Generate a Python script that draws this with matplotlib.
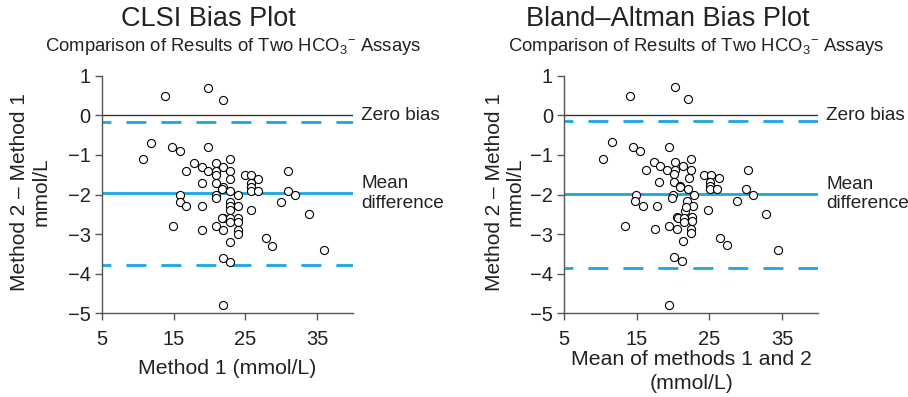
import matplotlib
matplotlib.use("Agg")
import matplotlib.pyplot as plt

plt.rcParams['font.family'] = ['Liberation Sans', 'DejaVu Sans']
plt.rcParams['mathtext.fontset'] = 'custom'
plt.rcParams['mathtext.rm'] = 'Liberation Sans'
plt.rcParams['mathtext.it'] = 'Liberation Sans:italic'
plt.rcParams['lines.scale_dashes'] = False

# CLSI plot: method 1 value vs difference
clsi_x = [13.8, 19.8, 21.9, 11.8, 10.8, 14.8, 15.9, 19.8, 22.8, 17.9,
          16.8, 18.9, 19.8, 20.9, 20.9, 20.9, 21.9, 22.8, 22.8, 24.9,
          25.8, 26.8, 25.8, 25.8, 25.8, 26.8, 30.9, 30.9, 31.9, 18.9,
          20.9, 21.9, 21.8, 22.8, 15.9, 15.9, 16.8, 18.9, 20.9, 20.9,
          23.9, 22.8, 22.8, 22.8, 23.9, 25.8, 29.9, 33.8, 21.9, 21.7,
          22.8, 22.8, 23.9, 23.9, 23.9, 23.9, 14.9, 18.9, 20.9, 21.9,
          22.8, 27.9, 28.7, 35.9, 21.9, 22.8, 21.9]
clsi_y = [0.5, 0.7, 0.4, -0.7, -1.1, -0.8, -0.9, -0.8, -1.1, -1.2,
          -1.4, -1.3, -1.4, -1.2, -1.4, -1.5, -1.3, -1.4, -1.6, -1.5,
          -1.5, -1.6, -1.7, -1.8, -1.9, -1.9, -1.4, -1.9, -2.0, -1.7,
          -1.7, -1.8, -1.85, -1.9, -2.0, -2.2, -2.3, -2.3, -2.0, -2.1,
          -2.0, -2.2, -2.3, -2.4, -2.3, -2.4, -2.2, -2.5, -2.6, -2.6,
          -2.6, -2.7, -2.6, -2.7, -2.9, -3.0, -2.8, -2.9, -2.8, -2.9,
          -3.2, -3.1, -3.3, -3.4, -3.6, -3.7, -4.8]
clsi_mean = -1.97
clsi_limits = [-0.17, -3.77]

# Bland-Altman plot: mean of methods vs difference
ba_x = [14.1, 20.3, 22.1, 11.6, 10.4, 14.5, 15.5, 19.5, 22.5, 17.4,
        16.2, 18.2, 19.2, 20.3, 20.3, 20.1, 21.3, 22.4, 22.2, 24.2,
        25.2, 26.3, 25.1, 25.1, 25.1, 26.1, 30.3, 30.0, 31.0, 18.1,
        20.1, 21.0, 20.9, 22.0, 14.9, 14.8, 15.8, 17.8, 20.0, 19.8,
        22.9, 21.9, 22.8, 21.7, 21.8, 24.8, 28.8, 32.8, 20.6, 20.7,
        22.6, 22.6, 21.5, 21.5, 22.4, 22.4, 13.4, 17.5, 19.5, 20.5,
        21.3, 26.4, 27.4, 34.4, 20.1, 21.2, 19.5]
ba_y = [0.5, 0.72, 0.42, -0.68, -1.09, -0.8, -0.89, -0.8, -1.1, -1.17,
        -1.39, -1.29, -1.39, -1.17, -1.39, -1.49, -1.29, -1.39, -1.58, -1.5,
        -1.5, -1.58, -1.69, -1.79, -1.87, -1.87, -1.39, -1.87, -2.0, -1.69,
        -1.69, -1.79, -1.82, -1.87, -2.0, -2.17, -2.28, -2.28, -2.0, -2.09,
        -2.0, -2.17, -2.28, -2.41, -2.31, -2.39, -2.17, -2.5, -2.57, -2.6,
        -2.57, -2.68, -2.6, -2.7, -2.87, -2.98, -2.79, -2.88, -2.79, -2.88,
        -3.17, -3.1, -3.27, -3.39, -3.58, -3.69, -4.79]
ba_mean = -1.99
ba_limits = [-0.15, -3.86]

titles = ["CLSI Bias Plot", "Bland\u2013Altman Bias Plot"]
subtitle = r"Comparison of Results of Two HCO$_3$$^{-}$ Assays"
xlabels = ["Method 1 (mmol/L)", "Mean of methods 1 and 2\n(mmol/L)"]
xlabel_pads = [7.5, 0.5]
ylabel = "Method 2 \u2013 Method 1\nmmol/L"

CYAN = '#1aa7e0'
TXT = '#222222'
AX = '#555555'

fig = plt.figure(figsize=(9.08, 3.97), dpi=100)
axes = [fig.add_axes([0.112, 0.211, 0.277, 0.598]),
        fig.add_axes([0.6214, 0.211, 0.2798, 0.598])]
data = [(clsi_x, clsi_y, clsi_mean, clsi_limits),
        (ba_x, ba_y, ba_mean, ba_limits)]

for ax, (xs, ys, mean, lims), xl, lp in zip(axes, data, xlabels, xlabel_pads):
    ax.axhline(0, color='#333333', lw=1.0, zorder=1)
    for lim in lims:
        ax.axhline(lim, color=CYAN, lw=2.0, linestyle=(8, (14.4, 10.8)), zorder=1)
    ax.axhline(mean, color=CYAN, lw=2.0, zorder=1)
    ax.scatter(xs, ys, s=34, facecolors='white', edgecolors='black',
               linewidths=0.8, zorder=3)
    ax.set_xlim(5, 40)
    ax.set_ylim(-5, 1)
    ax.set_xticks([5, 15, 25, 35])
    ax.set_yticks([1, 0, -1, -2, -3, -4, -5])
    for s in ['top', 'right']:
        ax.spines[s].set_visible(False)
    for s in ['left', 'bottom']:
        ax.spines[s].set_color(AX)
        ax.spines[s].set_linewidth(1.0)
    ax.tick_params(colors=AX, labelcolor=TXT, labelsize=14.5, length=5,
                   width=1.0, pad=3)
    ax.tick_params(axis='x', pad=7)
    ax.set_xlabel(xl, fontsize=15.3, color=TXT, labelpad=lp, linespacing=1.35)
    ax.text(41.1, 0, "Zero bias", fontsize=13.7, color=TXT, va='center',
            ha='left', clip_on=False)
    ax.text(41.1, mean, "Mean\ndifference", fontsize=13.7, color=TXT,
            va='center', ha='left', linespacing=1.2, clip_on=False)

# titles and subtitles
fig.text(0.229, 0.952, titles[0], fontsize=19.5, color=TXT, ha='center', va='center')
fig.text(0.257, 0.882, subtitle, fontsize=13.3, color=TXT, ha='center', va='center')
fig.text(0.735, 0.952, titles[1], fontsize=19.5, color=TXT, ha='center', va='center')
fig.text(0.767, 0.882, subtitle, fontsize=13.3, color=TXT, ha='center', va='center')

# y labels
fig.text(0.033, 0.516, ylabel, fontsize=15, color=TXT, rotation=90,
         ha='center', va='center', linespacing=1.15, multialignment='center')
fig.text(0.556, 0.516, ylabel, fontsize=15, color=TXT, rotation=90,
         ha='center', va='center', linespacing=1.15, multialignment='center')

fig.savefig("out.png", dpi=100)
